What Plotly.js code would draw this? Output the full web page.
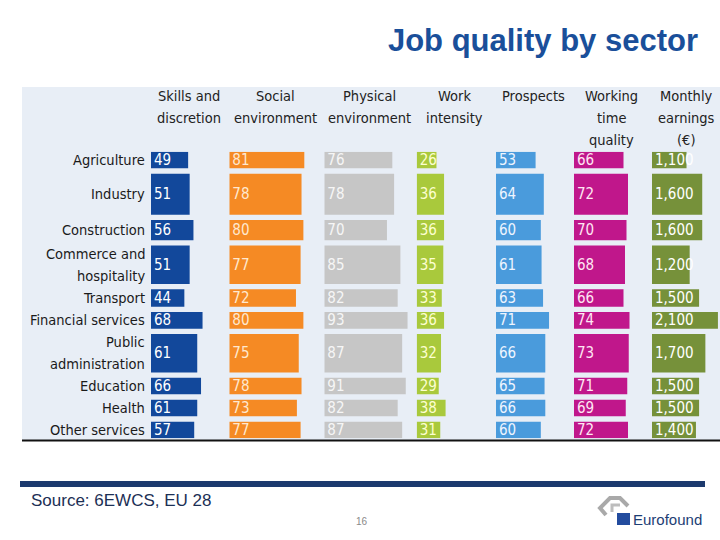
<!DOCTYPE html>
<html>
<head>
<meta charset="utf-8">
<script src="https://cdn.plot.ly/plotly-3.0.1.min.js"></script>
<style>html,body{margin:0;padding:0;background:#fff;}#chart{width:720px;height:540px;}</style>
</head>
<body>
<div id="chart"></div>
<script>
// ---- data ----
const categories = ['Agriculture','Industry','Construction','Commerce and<br>hospitality','Transport','Financial services','Public<br>administration','Education','Health','Other services'];
const employmentWeight = [16.6, 41, 20.3, 38.3, 17.4, 16.7, 38.4, 16.6, 16.7, 16.6];
const skills = [49, 51, 56, 51, 44, 68, 61, 66, 61, 57];
const social = [81, 78, 80, 77, 72, 80, 75, 78, 73, 77];
const physical = [76, 78, 70, 85, 82, 93, 87, 91, 82, 87];
const workIntensity = [26, 36, 36, 35, 33, 36, 32, 29, 38, 31];
const prospects = [53, 64, 60, 61, 63, 71, 66, 65, 66, 60];
const workingTime = [66, 72, 70, 68, 66, 74, 73, 71, 69, 72];
const earnings = [1100, 1600, 1600, 1200, 1500, 2100, 1700, 1500, 1500, 1400];
const headers = [['Skills and','discretion'],['Social','environment'],['Physical','environment'],['Work','intensity'],['Prospects'],['Working','time','quality'],['Monthly','earnings','(€)']];

// ---- styles / layout helpers ----
const W = 720, H = 540;
const FONT = 'DejaVu Sans Condensed, DejaVu Sans, sans-serif';
const series = [skills, social, physical, workIntensity, prospects, workingTime, earnings];
const colors = ['#12489b', '#f58a24', '#c6c6c6', '#a9c93c', '#4a9bdc', '#c0178b', '#76913a'];
const textColors = ['#ffffff', '#ffe8cf', '#f6f6f6', '#fdffd0', '#eef5ff', '#ffe6f3', '#ffffff'];
// column pixel domains and axis maxima
const colPx = [[151, 226.8], [229.3, 321.9], [324.3, 413.8], [416.7, 492.7], [496, 570.7], [574, 649], [652, 720]];
const colMax = [100, 100, 100, 100, 100, 100, 2166];
const yTopPx = 151.7, yBotPx = 438.3;
const GAP = (yBotPx - yTopPx - employmentWeight.reduce((a, b) => a + b, 0)) / (employmentWeight.length - 1);

const centers = [];
let acc = 0;
employmentWeight.forEach((w, i) => { centers.push(acc + w / 2); acc += w + GAP; });
const total = acc - GAP;
const unitPerPx = total / (yBotPx - yTopPx);

const traces = series.map((vals, k) => ({
  type: 'bar', orientation: 'h',
  x: vals, y: centers, width: employmentWeight,
  xaxis: k === 0 ? 'x' : 'x' + (k + 1), yaxis: 'y',
  marker: {color: colors[k], line: {width: 0}},
  text: vals.map(v => v.toLocaleString('en-US')),
  textposition: 'inside', insidetextanchor: 'start', constraintext: 'none', textangle: 0,
  textfont: {family: FONT, size: 15, color: textColors[k]},
  cliponaxis: false, hoverinfo: 'skip'
}));

const layout = {
  width: W, height: H,
  margin: {l: 0, r: 0, t: 0, b: 0},
  paper_bgcolor: '#ffffff', plot_bgcolor: 'rgba(0,0,0,0)',
  showlegend: false,
  title: {text: 'Job quality by sector', x: 698 / W, xanchor: 'right', xref: 'container',
          y: 1 - 40 / H, yanchor: 'middle', yref: 'container',
          font: {family: 'Liberation Sans, Arial, sans-serif', size: 31, weight: 'bold', color: '#1a4f9a'}},
  yaxis: {domain: [1 - yBotPx / H, 1 - yTopPx / H], range: [total, 0], anchor: 'x',
          showticklabels: false, showgrid: false, zeroline: false, showline: false, fixedrange: true},
  annotations: [], shapes: []
};
colPx.forEach((d, k) => {
  const key = k === 0 ? 'xaxis' : 'xaxis' + (k + 1);
  layout[key] = {domain: [d[0] / W, d[1] / W], range: [0, colMax[k]], anchor: 'y',
                 showticklabels: false, showgrid: false, zeroline: false, showline: false, fixedrange: true};
});

// header annotations
headers.forEach((lines, k) => {
  const ref = (k === 0 ? 'x' : 'x' + (k + 1)) + ' domain';
  lines.forEach((ln, j) => {
    layout.annotations.push({text: ln, xref: ref, x: 0.5, xanchor: 'center',
      yref: 'paper', y: 1 - (96 + 22 * j) / H, yanchor: 'middle', showarrow: false,
      font: {family: FONT, size: 14.5, color: '#222222'}});
  });
});
// category labels
categories.forEach((c, i) => {
  const lines = c.split('<br>');
  lines.forEach((ln, j) => {
    const off = (j - (lines.length - 1) / 2) * 22 * unitPerPx;
    layout.annotations.push({text: ln, xref: 'paper', x: 147 / W, xanchor: 'right',
      yref: 'y', y: centers[i] + off, yanchor: 'middle', showarrow: false,
      font: {family: FONT, size: 14.5, color: '#1a1a1a'}});
  });
});
// footer texts
layout.annotations.push({text: 'Source: 6EWCS, EU 28', xref: 'paper', yref: 'paper', x: 29 / W, xanchor: 'left',
  y: 1 - 500 / H, yanchor: 'middle', showarrow: false,
  font: {family: 'Liberation Sans, Arial, sans-serif', size: 17, color: '#1c2f55'}});
layout.annotations.push({text: '16', xref: 'paper', yref: 'paper', x: 362 / W, xanchor: 'center',
  y: 1 - 521 / H, yanchor: 'middle', showarrow: false,
  font: {family: 'Liberation Sans, Arial, sans-serif', size: 10, color: '#8a8a8a'}});
layout.annotations.push({text: 'Eurofound', xref: 'paper', yref: 'paper', x: 631 / W, xanchor: 'left',
  y: 1 - 519 / H, yanchor: 'middle', showarrow: false,
  font: {family: 'Liberation Sans, Arial, sans-serif', size: 15, color: '#1d3d74'}});

// decorative shapes (panel, rules, logo)
const px = (x) => x / W, py = (y) => 1 - y / H;
layout.shapes.push({type: 'rect', xref: 'paper', yref: 'paper', x0: px(22), x1: px(720), y0: py(440), y1: py(87),
  fillcolor: '#e8eef6', line: {width: 0}, layer: 'below'});
layout.shapes.push({type: 'line', xref: 'paper', yref: 'paper', x0: px(22), x1: px(720), y0: py(440.5), y1: py(440.5),
  line: {color: '#111111', width: 2}});
layout.shapes.push({type: 'rect', xref: 'paper', yref: 'paper', x0: px(20), x1: px(705), y0: py(487), y1: py(481),
  fillcolor: '#1c3a6e', line: {width: 0}});
layout.shapes.push({type: 'rect', xref: 'paper', yref: 'paper', x0: px(617), x1: px(630), y0: py(525), y1: py(513),
  fillcolor: '#234c9e', line: {width: 0}});
layout.shapes.push({type: 'path', xref: 'paper', yref: 'paper',
  path: `M ${px(606)},${py(515)} L ${px(600)},${py(508)} L ${px(610)},${py(498)} L ${px(620)},${py(498)} L ${px(628)},${py(506)}`,
  line: {color: '#a9a9a9', width: 4}});
layout.shapes.push({type: 'path', xref: 'paper', yref: 'paper',
  path: `M ${px(612)},${py(512)} L ${px(612)},${py(505)} L ${px(620)},${py(505)}`,
  line: {color: '#bdbdbd', width: 3}});

Plotly.newPlot('chart', traces, layout, {displayModeBar: false, staticPlot: true});
</script>
</body>
</html>
